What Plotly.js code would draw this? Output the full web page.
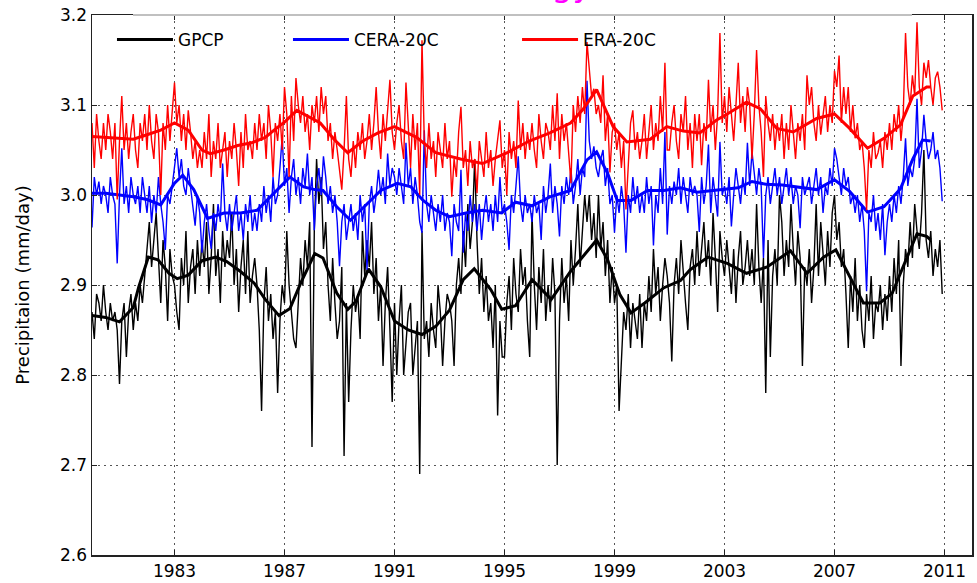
<!DOCTYPE html>
<html>
<head>
<meta charset="utf-8">
<script src="https://cdn.plot.ly/plotly-3.0.1.min.js"></script>
<style>html,body{margin:0;padding:0;background:#fff;}#chart{width:977px;height:583px;}</style>
</head>
<body>
<div id="chart"></div>
<script>
// Monthly series, Jan 1980 - Dec 2010 (one row per year)
var startYear = 1980;
var gpcpMonthly = [
2.87,2.84,2.89,2.88,2.86,2.90,2.87,2.85,2.88,2.86,2.87,2.85,
2.79,2.86,2.88,2.82,2.87,2.89,2.85,2.88,2.86,2.90,2.88,2.91,
2.94,2.97,2.92,2.95,2.98,2.93,2.88,2.95,2.92,2.86,2.94,2.91,
2.90,2.87,2.85,2.93,2.90,2.96,2.88,2.92,2.94,2.89,2.95,2.91,
2.95,2.92,2.97,2.89,2.93,2.99,2.91,2.94,2.88,2.96,2.92,2.95,
2.93,2.98,2.90,2.94,2.87,2.92,2.95,2.89,2.96,2.88,2.91,2.93,
2.90,2.85,2.76,2.88,2.92,2.86,2.89,2.84,2.87,2.78,2.86,2.90,
2.88,2.96,2.90,2.87,2.84,2.83,2.88,2.93,2.90,2.95,2.92,2.97,
2.72,2.96,3.04,2.99,3.02,2.94,2.97,2.90,2.86,2.93,2.88,2.84,
2.86,2.92,2.71,2.88,2.77,2.85,2.90,2.87,2.89,2.84,2.96,2.91,
2.95,2.92,2.97,2.89,2.93,2.86,2.90,2.81,2.88,2.92,2.85,2.77,
2.88,2.80,2.86,2.90,2.80,2.84,2.87,2.88,2.80,2.83,2.86,2.69,
2.96,2.84,2.86,2.82,2.88,2.85,2.83,2.90,2.87,2.81,2.86,2.89,
2.88,2.86,2.81,2.90,2.93,2.89,2.96,2.92,2.99,2.94,2.97,3.04,
2.95,2.89,2.93,2.87,2.91,2.86,2.88,2.83,2.90,2.755,2.86,2.82,
2.82,2.88,2.91,2.85,2.93,2.89,2.87,2.94,2.90,2.92,2.86,2.82,
2.98,2.90,2.85,2.92,2.88,2.94,2.86,2.90,2.87,2.93,2.89,2.70,
2.86,2.93,2.88,2.91,2.86,2.95,2.90,2.94,2.99,2.92,2.96,3.00,
2.97,3.00,2.95,2.98,2.93,3.00,2.94,2.97,2.91,2.95,2.88,2.92,
2.88,2.90,2.76,2.81,2.87,2.85,2.89,2.83,2.88,2.86,2.84,2.89,
2.83,2.88,2.86,2.91,2.87,2.94,2.89,2.92,2.86,2.90,2.93,2.91,
2.88,2.815,2.90,2.93,2.89,2.95,2.91,2.88,2.85,2.92,2.94,2.90,
2.96,2.91,2.94,2.97,2.92,2.95,2.90,2.98,2.93,2.87,2.96,2.93,
2.91,2.95,2.92,2.89,2.94,2.88,2.93,2.96,2.90,2.92,2.95,2.91,
2.94,2.90,2.99,2.92,2.88,2.93,2.78,2.95,2.82,2.91,2.94,2.90,
3.00,2.97,2.91,2.95,2.92,2.99,2.94,2.90,2.96,2.93,2.81,2.92,
2.90,2.94,2.88,2.92,2.99,2.91,2.97,2.93,2.90,2.96,2.92,2.98,
3.00,2.95,2.97,2.92,2.94,2.89,2.83,2.91,2.87,2.93,2.86,2.90,
2.85,2.83,2.89,2.86,2.91,2.84,2.88,2.87,2.90,2.85,2.89,2.86,
2.91,2.87,2.93,2.89,2.95,2.81,2.90,2.94,2.92,2.97,2.93,2.99,
2.96,2.94,2.98,3.05,2.95,2.93,2.96,2.91,2.94,2.92,2.95,2.89
];
var ceraMonthly = [
2.964,3.02,3.00,3.015,2.99,3.01,3.00,2.98,3.02,3.00,2.99,2.924,
3.00,3.052,2.99,3.01,2.98,3.02,3.00,2.99,3.01,2.98,3.02,3.00,
2.98,3.01,2.969,3.00,2.98,3.02,2.99,2.97,2.939,3.00,2.99,3.01,
3.03,3.052,3.02,3.04,3.01,3.00,3.03,3.01,2.99,2.966,3.00,2.98,
2.936,2.97,2.99,2.96,2.94,2.98,2.96,2.99,2.97,3.035,2.98,2.96,
2.99,2.96,2.98,3.00,2.96,2.98,2.95,2.99,2.97,3.00,2.96,2.98,
2.96,2.99,2.97,3.01,2.98,3.00,2.97,3.02,2.99,3.00,3.03,3.065,
3.01,3.03,2.98,3.02,3.04,3.00,3.02,2.99,3.03,3.01,3.046,3.00,
3.02,2.961,3.01,3.03,3.00,3.043,3.02,2.99,3.01,2.98,3.00,2.97,
2.921,2.97,2.99,2.95,2.97,2.99,2.96,2.98,2.95,3.00,2.97,2.99,
2.917,2.99,3.01,2.98,3.00,3.028,3.00,3.02,2.99,3.046,3.01,3.03,
3.02,3.00,3.03,3.01,2.99,3.058,3.01,3.03,2.99,3.02,3.00,2.97,
2.958,3.072,2.99,2.97,3.00,2.98,2.96,2.99,2.97,3.00,2.96,2.98,
2.97,2.932,2.99,2.97,2.96,3.028,2.936,2.98,2.96,3.00,2.97,2.99,
2.96,2.99,2.95,2.98,3.00,2.97,2.99,2.96,3.00,2.97,3.02,2.98,
2.99,2.97,2.939,3.00,2.98,3.01,3.043,2.99,2.97,3.00,2.98,2.99,
2.97,3.00,2.98,2.99,2.95,3.01,2.98,3.00,3.035,2.98,3.01,2.99,
2.954,3.01,2.99,3.02,3.00,3.03,2.99,3.01,3.04,3.00,3.03,3.02,
3.127,3.06,3.04,3.054,3.03,3.02,3.04,3.05,3.01,3.03,2.99,3.00,
2.958,3.00,2.98,3.01,2.99,2.936,3.00,2.98,3.02,2.99,3.01,2.98,
3.00,2.98,3.02,2.99,3.01,2.944,3.00,2.98,3.03,2.99,3.07,2.956,
3.01,2.99,3.015,3.00,3.03,2.99,3.02,3.00,2.98,3.02,3.00,3.01,
3.00,2.959,3.02,2.99,3.01,3.056,2.98,3.02,3.00,2.976,3.059,3.00,
3.01,2.99,3.02,2.965,3.00,3.03,3.01,2.99,3.02,3.00,3.058,3.01,
3.048,3.02,3.00,3.03,3.01,2.93,3.00,3.02,2.99,3.01,3.03,3.00,
3.02,2.99,3.01,3.03,3.00,3.02,2.99,3.01,3.00,2.963,3.02,3.00,
3.01,3.02,2.99,3.01,3.03,3.00,3.02,2.98,3.01,3.00,3.03,3.01,
3.052,3.04,3.02,3.00,3.03,3.01,3.02,2.99,3.00,2.98,3.00,2.97,
2.99,2.96,2.893,2.98,2.97,3.00,2.96,2.98,2.95,2.99,2.933,2.97,
2.99,2.97,3.00,2.98,3.01,2.99,3.02,3.063,3.01,3.03,3.02,3.04,
3.107,3.03,3.05,3.089,3.06,3.04,3.05,3.07,3.04,3.05,3.03,2.993
];
var eraMonthly = [
3.08,3.03,3.09,3.06,3.04,3.08,3.05,3.09,3.07,3.04,3.08,2.995,
3.06,3.11,3.05,3.08,3.04,3.07,3.09,3.05,3.03,3.08,3.06,3.09,
3.05,3.10,3.06,3.04,3.09,3.07,3.00,3.08,3.05,3.10,3.06,3.09,
3.125,3.08,3.10,3.06,3.09,3.05,3.094,3.07,3.04,3.06,3.03,3.05,
3.03,3.07,3.04,3.09,3.02,3.06,3.04,3.08,3.03,3.05,3.07,3.02,
3.06,3.04,3.08,3.05,3.01,3.07,3.03,3.09,3.05,3.06,3.04,3.08,
3.05,3.09,3.06,3.08,3.04,3.10,3.07,3.02,3.08,3.06,3.09,3.05,
3.12,3.09,3.02,3.11,3.06,3.13,3.10,3.08,3.11,3.07,3.09,3.05,
3.10,3.08,3.11,3.07,3.12,3.09,3.11,3.06,3.08,3.04,3.07,3.05,
3.03,3.006,3.05,3.11,3.04,3.02,3.06,3.03,3.07,3.05,3.08,3.04,
3.06,3.09,3.05,3.08,3.12,3.07,3.04,3.09,3.06,3.10,3.128,3.07,
3.05,3.08,3.10,3.06,3.04,3.125,3.07,3.03,3.09,3.05,3.08,3.00,
3.172,3.06,3.03,3.08,3.04,3.06,3.02,3.07,3.05,3.03,3.08,3.04,
3.06,2.998,3.04,3.02,3.07,3.098,3.03,3.05,3.01,3.06,3.03,3.04,
3.002,3.06,3.04,3.02,3.07,3.03,3.05,3.01,3.04,3.06,3.083,3.03,
3.05,3.00,3.07,3.04,3.06,3.03,3.105,3.05,3.08,3.04,3.07,3.05,
3.08,3.05,3.03,3.09,3.06,3.04,3.08,3.07,3.05,3.10,3.06,3.113,
3.04,3.09,3.06,3.08,3.05,3.013,3.10,3.07,3.11,3.08,3.12,3.09,
3.17,3.14,3.11,3.118,3.09,3.10,3.08,3.133,3.06,3.09,3.025,3.07,
3.08,3.05,3.07,3.03,3.06,2.984,3.04,3.08,3.094,3.05,3.07,3.04,
3.06,3.09,3.04,3.07,3.10,3.05,3.08,3.06,3.11,3.07,3.147,3.05,
3.05,3.08,3.10,3.06,3.04,3.09,3.07,3.11,3.05,3.08,3.03,3.09,
3.06,3.09,3.033,3.08,3.06,3.128,3.07,3.10,3.05,3.09,3.18,3.08,
3.11,3.07,3.12,3.09,3.06,3.10,3.147,3.08,3.11,3.07,3.12,3.10,
3.04,3.09,3.161,3.10,3.07,3.02,3.11,3.08,3.06,3.09,3.05,3.08,
3.06,3.09,3.04,3.08,3.05,3.10,3.07,3.04,3.08,3.06,3.09,3.05,
3.133,3.10,3.12,3.08,3.06,3.10,3.067,3.09,3.11,3.07,3.10,3.08,
3.138,3.12,3.155,3.08,3.12,3.09,3.12,3.07,3.10,3.063,3.08,3.05,
3.06,3.03,2.983,3.05,3.03,3.07,3.04,3.047,3.06,3.03,3.07,3.05,
3.08,3.05,3.09,3.07,3.10,3.06,3.09,3.18,3.12,3.10,3.133,3.11,
3.192,3.12,3.10,3.147,3.13,3.15,3.12,3.10,3.13,3.137,3.12,3.094
];

// Smoothed (running mean) curves
var gpcpSmoothYears = [1980.0,1980.5,1981.0,1981.5,1981.7,1982.05,1982.4,1982.8,1983.1,1983.5,1984.0,1984.5,1984.9,1985.4,1985.9,1986.3,1986.8,1987.2,1987.6,1988.1,1988.4,1988.9,1989.3,1989.6,1990.05,1990.5,1991.0,1991.5,1992.0,1992.5,1993.0,1993.5,1993.9,1994.5,1994.9,1995.4,1996.0,1996.7,1997.4,1998.35,1998.75,1999.2,1999.6,2000.1,2000.8,2001.4,2001.75,2002.4,2003.1,2003.8,2004.55,2005.4,2006.0,2006.6,2007.05,2007.55,2008.05,2008.65,2009.1,2009.6,2010.0,2010.35,2010.5];
var gpcpSmooth = [2.866,2.864,2.859,2.875,2.898,2.931,2.928,2.913,2.907,2.911,2.927,2.931,2.926,2.915,2.902,2.884,2.866,2.874,2.903,2.935,2.930,2.891,2.873,2.882,2.918,2.898,2.860,2.850,2.845,2.854,2.872,2.906,2.918,2.895,2.873,2.877,2.906,2.884,2.915,2.950,2.928,2.889,2.869,2.880,2.897,2.905,2.917,2.931,2.924,2.913,2.920,2.938,2.913,2.931,2.939,2.909,2.880,2.880,2.891,2.928,2.957,2.954,2.950];
var ceraSmoothYears = [1980.0,1980.5,1981.0,1981.5,1982.0,1982.5,1983.0,1983.3,1983.7,1984.2,1984.8,1985.4,1986.0,1986.6,1987.2,1987.7,1988.1,1988.4,1988.9,1989.4,1990.0,1990.5,1991.1,1991.6,1992.04,1992.5,1993.0,1993.6,1994.2,1994.9,1995.4,1996.0,1996.65,1997.4,1998.0,1998.35,1998.75,1999.1,1999.6,2000.2,2000.8,2001.4,2002.0,2002.7,2003.5,2004.0,2004.5,2005.1,2006.35,2007.0,2007.55,2008.2,2008.8,2009.4,2009.85,2010.2,2010.5];
var ceraSmooth = [3.002,3.002,3.000,2.998,2.995,2.989,3.013,3.022,3.006,2.974,2.980,2.980,2.983,3.002,3.020,3.009,3.006,3.005,2.987,2.972,2.990,3.005,3.013,3.009,2.994,2.983,2.976,2.980,2.983,2.980,2.992,2.988,2.998,3.005,3.039,3.048,3.024,2.994,2.994,3.005,3.005,3.008,3.003,3.005,3.008,3.015,3.012,3.011,3.006,3.017,3.004,2.981,2.987,3.007,3.040,3.061,3.060];
var eraSmoothYears = [1980.0,1980.5,1981.0,1981.5,1982.0,1982.5,1983.0,1983.5,1984.0,1984.3,1984.8,1985.3,1985.8,1986.3,1986.7,1987.0,1987.45,1987.8,1988.3,1988.8,1989.3,1989.85,1990.4,1991.0,1991.8,1992.5,1993.4,1994.2,1995.1,1995.9,1996.65,1997.4,1997.85,1998.35,1998.95,1999.45,2000.3,2000.9,2001.5,2002.1,2002.7,2003.1,2003.8,2004.3,2004.9,2005.5,2006.35,2007.0,2007.55,2008.2,2008.8,2009.4,2009.85,2010.35,2010.5];
var eraSmooth = [3.065,3.064,3.063,3.062,3.067,3.072,3.080,3.072,3.050,3.046,3.050,3.055,3.058,3.064,3.074,3.081,3.094,3.088,3.080,3.062,3.047,3.060,3.069,3.076,3.064,3.047,3.040,3.035,3.047,3.060,3.069,3.080,3.095,3.117,3.076,3.059,3.062,3.076,3.071,3.069,3.083,3.090,3.103,3.096,3.074,3.070,3.085,3.090,3.074,3.052,3.063,3.078,3.110,3.120,3.120];

var seriesNames = ['GPCP', 'CERA-20C', 'ERA-20C'];
var seriesColors = ['#000000', '#0000ff', '#ff0000'];
var xTickVals = [1983, 1987, 1991, 1995, 1999, 2003, 2007, 2011];
var xTickText = ['1983', '1987', '1991', '1995', '1999', '2003', '2007', '2011'];
var titleText = 'energy,';

function monthX(n) {
  var xs = [];
  for (var i = 0; i < n; i++) xs.push(startYear + i / 12);
  return xs;
}

var rawSets = [gpcpMonthly, ceraMonthly, eraMonthly];
var smoothX = [gpcpSmoothYears, ceraSmoothYears, eraSmoothYears];
var smoothY = [gpcpSmooth, ceraSmooth, eraSmooth];
var legendIds = ['legend', 'legend2', 'legend3'];

var traces = [];
for (var s = 0; s < 3; s++) {
  traces.push({
    type: 'scatter', mode: 'lines', x: monthX(rawSets[s].length), y: rawSets[s],
    line: {color: seriesColors[s], width: 1.4}, showlegend: false, hoverinfo: 'skip'
  });
  traces.push({
    type: 'scatter', mode: 'lines', x: smoothX[s], y: smoothY[s], name: seriesNames[s],
    line: {color: seriesColors[s], width: 3}, legend: legendIds[s], showlegend: true
  });
}

var legendFont = {family: 'DejaVu Sans', size: 17, color: '#000'};
function mkLegend(xp) {
  return {x: xp, xanchor: 'left', y: 0.954, yanchor: 'middle', orientation: 'h',
          bgcolor: 'rgba(0,0,0,0)', borderwidth: 0, font: legendFont, itemwidth: 56};
}

var layout = {
  width: 977, height: 583,
  margin: {l: 92, r: 5, t: 15, b: 28, pad: 0},
  paper_bgcolor: '#fff', plot_bgcolor: '#fff',
  font: {family: 'DejaVu Sans', size: 17, color: '#000'},
  xaxis: {
    range: [1980, 2012], tickmode: 'array', tickvals: xTickVals, ticktext: xTickText,
    showline: true, linecolor: '#222', linewidth: 1.5, mirror: 'ticks',
    ticks: 'inside', ticklen: 5, tickcolor: '#222',
    showgrid: true, gridcolor: '#555', gridwidth: 1, griddash: '2px,4px',
    zeroline: false, automargin: false, tickfont: {size: 17}
  },
  yaxis: {
    range: [2.6, 3.2], dtick: 0.1, tick0: 2.6, tickformat: '.1f',
    showline: true, linecolor: '#222', linewidth: 1.5, mirror: 'ticks',
    ticks: 'inside', ticklen: 5, tickcolor: '#222',
    showgrid: true, gridcolor: '#555', gridwidth: 1, griddash: '2px,4px',
    zeroline: false, automargin: false, tickfont: {size: 17},
    title: {text: 'Precipitaion (mm/day)', font: {size: 18}, standoff: 26}
  },
  legend: mkLegend(0.0227),
  legend2: mkLegend(0.2227),
  legend3: mkLegend(0.483),
  shapes: [
    {type: 'line', xref: 'paper', yref: 'paper', x0: 0.0466, x1: 0.9318, y0: 1, y1: 1,
     line: {color: '#c0c0c0', width: 2.2}, layer: 'above'}
  ],
  annotations: [
    {text: titleText, xref: 'paper', yref: 'paper', x: 0.582, xanchor: 'right',
     y: 1.0175, yanchor: 'bottom', showarrow: false,
     font: {family: 'DejaVu Sans', size: 33, color: '#ff00ff'}}
  ]
};

Plotly.newPlot('chart', traces, layout, {staticPlot: true, displayModeBar: false});
</script>
</body>
</html>
